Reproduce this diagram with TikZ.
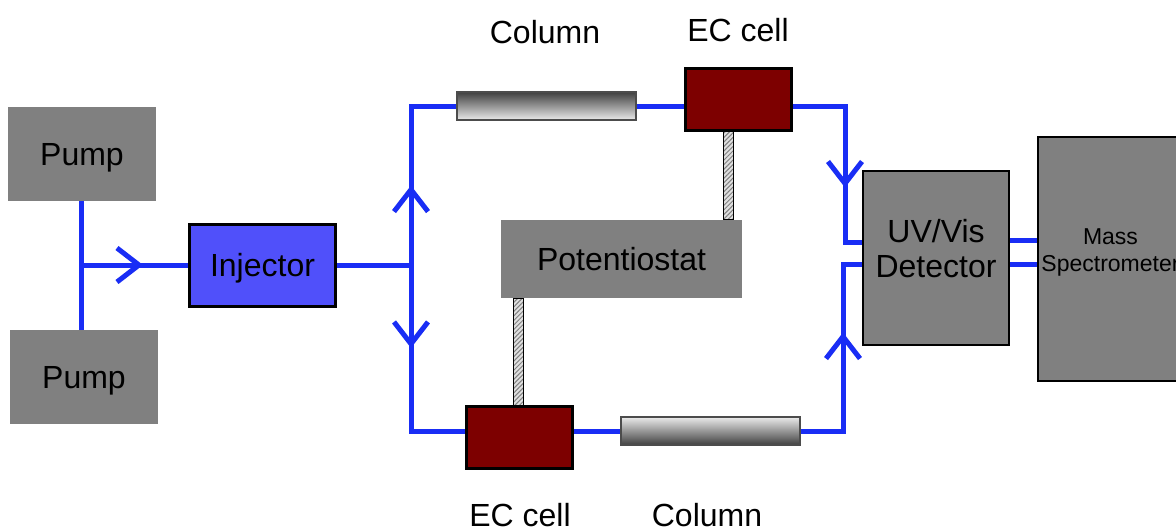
\documentclass[tikz,border=0pt]{standalone}
\usepackage{fontspec}
\setmainfont{Liberation Sans}
\usetikzlibrary{positioning,arrows.meta,calc,decorations.markings,patterns.meta}
\definecolor{flowblue}{RGB}{25,45,245}
\definecolor{injblue}{RGB}{80,80,250}
\definecolor{cellred}{RGB}{125,0,0}
\definecolor{boxgray}{RGB}{128,128,128}

\begin{document}
\begin{tikzpicture}[x=0.5pt,y=-0.5pt,
    tag/.style={font=\fontsize{16}{17.5}\selectfont},
    unit/.style={tag,fill=boxgray,inner sep=0pt,text depth=0pt},
    framed/.style={unit,draw=black,line width=1pt},
    eccell/.style={fill=cellred,draw=black,line width=1.5pt,minimum width=53pt,minimum height=31pt},
    column/.style={draw=black!70,line width=0.6pt,minimum width=89.5pt,minimum height=14pt},
    flow/.style={flowblue,line width=2.5pt},
    midarrow/.style={postaction={decorate,decoration={markings,
        mark=at position #1 with {\arrow{Straight Barb[length=11pt,width=17pt]}}}}},
    link/.style={preaction={fill=black!12},pattern={Lines[angle=45,distance=1.6pt,line width=0.5pt]},pattern color=black!50}]
  \useasboundingbox (0,0) rectangle (1176,531);
  \clip (0,0) rectangle (1176,531);
  \fill[white] (0,0) rectangle (1176,531);
  % units
  \node[unit,minimum width=74pt,minimum height=47pt] (pumpA) at (82,154) {Pump};
  \node[unit,minimum width=74pt,minimum height=47pt] (pumpB) at (84,377) {Pump};
  \node[unit,fill=injblue,draw=black,line width=1.5pt,minimum width=73pt,minimum height=41pt] (injector) at (262.5,265) {Injector};
  \node[column,top color=black!75,bottom color=black!8] (colA) at (546.5,106) {};
  \node[eccell] (ecA) at (738,99) {};
  \node[unit,minimum width=120.5pt,minimum height=39pt] (potentiostat) at (621.5,259) {Potentiostat};
  \node[eccell] (ecB) at (519,437.5) {};
  \node[column,top color=black!8,bottom color=black!75] (colB) at (710.5,431) {};
  \node[framed,minimum width=73pt,minimum height=87pt] (detector) at (936,257.5) {};
  \node[tag,align=center] (detectortext) at ($(detector)+(0,-9)$) {UV/Vis\\Detector};
  \node[framed,minimum width=71pt,minimum height=122pt] (mass) at (1108.5,258.5) {};
  \node[align=center,font=\fontsize{11.5}{13.5}\selectfont] (masstext) at ($(mass)+(2,-6)$) {Mass\\Spectrometer};
  % labels
  \node[tag] (colAlabel) at (545,32) {Column};
  \node[tag] (ecAlabel) at (738,30) {EC cell};
  \node[tag,inner sep=0pt] (ecBlabel) at (520,515) {EC cell};
  \node[tag,inner sep=0pt] (colBlabel) at (707,515) {Column};
  % turning points
  \coordinate (pumpjunc) at (81,265);
  \coordinate (split) at (411,265);
  \coordinate (upTurn) at (411,106);
  \coordinate (downTurn) at (411,431);
  \coordinate (inTop) at (845,242);
  \coordinate (inBot) at (843,264);
  \coordinate (outA) at (1020,240);
  \coordinate (outB) at (1020,264);
  \coordinate (linkA) at (728,0);
  \coordinate (linkB) at (518,0);
  % electrode leads
  \draw[link] ($(linkA |- ecA.south)+(-5,0)$) rectangle ($(linkA |- potentiostat.north)+(5,0)$);
  \draw[link] ($(linkB |- potentiostat.south)+(-5,0)$) rectangle ($(linkB |- ecB.north)+(5,0)$);
  % flow lines
  \draw[flow] (pumpjunc |- pumpA.south) -- (pumpjunc |- pumpB.north) (pumpjunc) -- (injector.west);
  \draw[flow] (injector.east) -- (split);
  \draw[flow] (colA.west) -- (upTurn) -- (downTurn) -- (downTurn -| ecB.west);
  \draw[flow] (colA.east) -- (colA.east -| ecA.west);
  \draw[flow] (colA.east -| ecA.east) -- (inTop |- colA.east) -- (inTop) -- (inTop -| detector.west);
  \draw[flow] (colB.west -| ecB.east) -- (colB.west);
  \draw[flow] (colB.east) -- (inBot |- colB.east) -- (inBot) -- (inBot -| detector.west);
  \draw[flow] (outA -| detector.east) -- (outA -| mass.west);
  \draw[flow] (outB -| detector.east) -- (outB -| mass.west);
  % flow arrows
  \draw[flow,midarrow=0.58] (pumpjunc) -- (injector.west);
  \draw[flow,midarrow=0.5] (split) -- (upTurn);
  \draw[flow,midarrow=0.5] (split) -- (downTurn);
  \draw[flow,midarrow=0.6] (inTop |- colA.east) -- (inTop);
  \draw[flow,midarrow=0.59] (inBot |- colB.east) -- (inBot);
\end{tikzpicture}
\end{document}
